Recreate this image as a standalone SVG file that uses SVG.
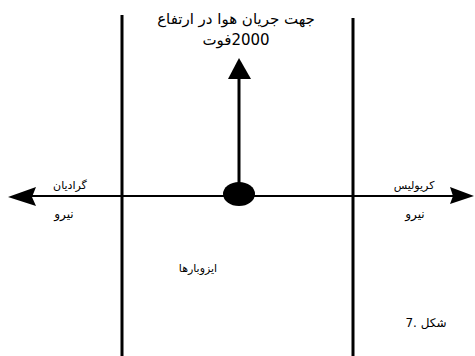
<svg xmlns="http://www.w3.org/2000/svg" width="475" height="356" viewBox="0 0 475 356">
<style>
.ln{stroke:#000;fill:none}
.t{font-family:"DejaVu Sans","Noto Sans",sans-serif;fill:#000}
</style>
<rect width="475" height="356" fill="#fff"/>
<g id="connectors">
<line class="ln" x1="122" y1="15" x2="122" y2="356" stroke-width="3"/>
<line class="ln" x1="353" y1="18" x2="353" y2="356" stroke-width="3"/>
<line class="ln" x1="25" y1="196" x2="455" y2="196" stroke-width="2"/>
<polygon points="8,197 36,187 32,197 36,206" fill="#000"/>
<polygon points="474,196 450,187 453,196 450,204" fill="#000"/>
<line class="ln" x1="239" y1="75" x2="239" y2="186" stroke-width="3"/>
<polygon points="239,58 228,79 251,79" fill="#000"/>
</g>
<g id="center"><ellipse cx="239" cy="194" rx="16" ry="12" fill="#000"/></g>
<g id="title">
<text class="t" x="236" y="24" font-size="15" text-anchor="middle" direction="rtl">جهت جریان هوا در ارتفاع</text>
<text class="t" x="236" y="45" font-size="15" text-anchor="middle" direction="rtl">2000فوت</text>
</g>
<g id="left">
<text class="t" x="70" y="189" font-size="11" text-anchor="middle">گرادیان</text>
<text class="t" x="64" y="218" font-size="12" text-anchor="middle">نیرو</text>
</g>
<g id="right">
<text class="t" x="414" y="189" font-size="11" text-anchor="middle">کریولیس</text>
<text class="t" x="415" y="218" font-size="12" text-anchor="middle">نیرو</text>
</g>
<g id="isobars"><text class="t" x="198" y="272" font-size="11" text-anchor="middle">ایزوبارها</text></g>
<g id="fig"><text class="t" x="426" y="327" font-size="12" text-anchor="middle" direction="rtl">شکل .7</text></g>
</svg>
